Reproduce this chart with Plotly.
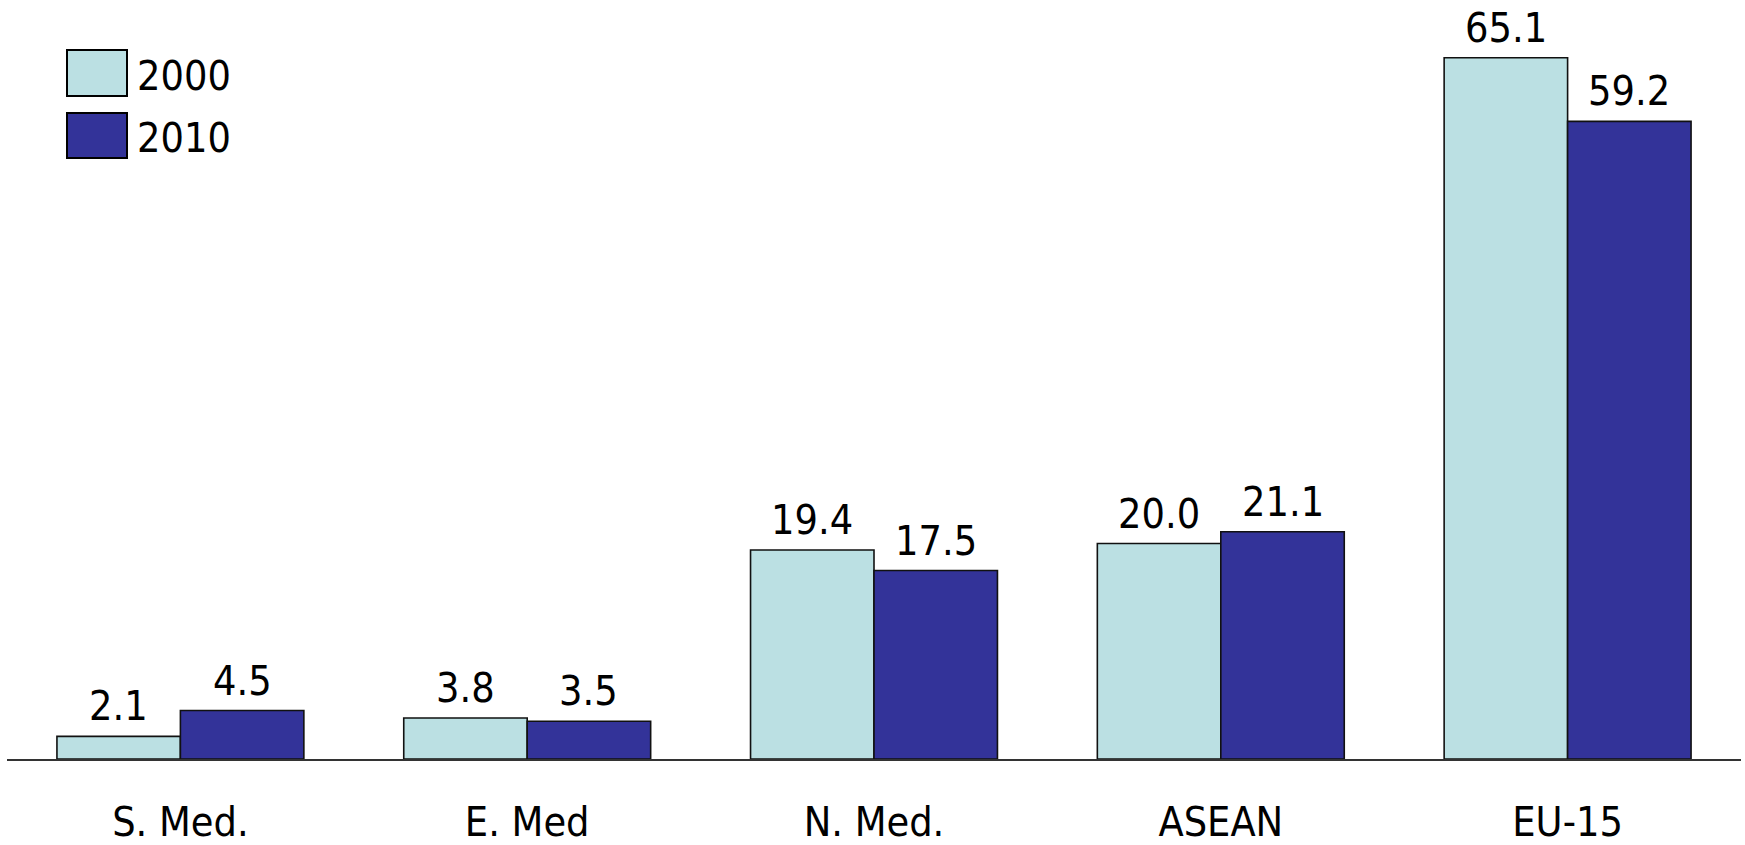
import plotly.graph_objects as go

categories = ["S. Med.", "E. Med", "N. Med.", "ASEAN", "EU-15"]
series_names = ["2000", "2010"]
values_2000 = [2.1, 3.8, 19.4, 20.0, 65.1]
values_2010 = [4.5, 3.5, 17.5, 21.1, 59.2]

colors = ["#BBE0E3", "#333399"]
FONT = "DejaVu Sans Condensed, DejaVu Sans, sans-serif"
FS = 41

W, H = 1745, 845
ML, MR, MT, MB = 7, 4, 5, 86
BARGAP = 0.288

fig = go.Figure()
for name, vals, col in zip(series_names, [values_2000, values_2010], colors):
    fig.add_trace(go.Bar(
        x=categories, y=vals, name=name,
        marker=dict(color=col, line=dict(color="#111111", width=1.6)),
        showlegend=False,
    ))

pw = W - ML - MR
ph = H - MT - MB
bar_px = pw / len(categories) * (1 - BARGAP) / 2

# value labels above each bar
for k, vals in enumerate([values_2000, values_2010]):
    shift = (k - 0.5) * bar_px
    for c, v in zip(categories, vals):
        fig.add_annotation(x=c, y=v, text=f"{v:.1f}", showarrow=False,
                           xshift=shift, yshift=4, yanchor="bottom", xanchor="center",
                           font=dict(family=FONT, size=FS, color="#000000"))

# legend drawn with shapes + text (large swatches)
def px_x(p):
    return (p - ML) / pw
def px_y(p):
    return (H - MB - p) / ph

legend_items = [(series_names[0], colors[0], 50, 96), (series_names[1], colors[1], 113, 158)]
for name, col, y0, y1 in legend_items:
    fig.add_shape(type="rect", xref="paper", yref="paper",
                  x0=px_x(67), x1=px_x(127), y0=px_y(y1), y1=px_y(y0),
                  fillcolor=col, line=dict(color="#000000", width=2))
    fig.add_annotation(xref="paper", yref="paper", x=px_x(135), y=px_y((y0 + y1) / 2 + 3),
                       text=name, showarrow=False, xanchor="left", yanchor="middle",
                       font=dict(family=FONT, size=FS, color="#000000"))

fig.update_layout(
    width=W, height=H,
    margin=dict(l=ML, r=MR, t=MT, b=MB, autoexpand=False),
    paper_bgcolor="white", plot_bgcolor="white",
    barmode="group", bargap=BARGAP, bargroupgap=0,
    showlegend=False,
    xaxis=dict(showline=True, linecolor="#333333", linewidth=1.5, showgrid=False,
               ticks="outside", ticklen=26, tickcolor="rgba(0,0,0,0)",
               tickfont=dict(family=FONT, size=FS, color="#000000"), automargin=False),
    yaxis=dict(range=[0, 70], visible=False, showgrid=False, zeroline=False),
)

fig.write_html("out.html")
